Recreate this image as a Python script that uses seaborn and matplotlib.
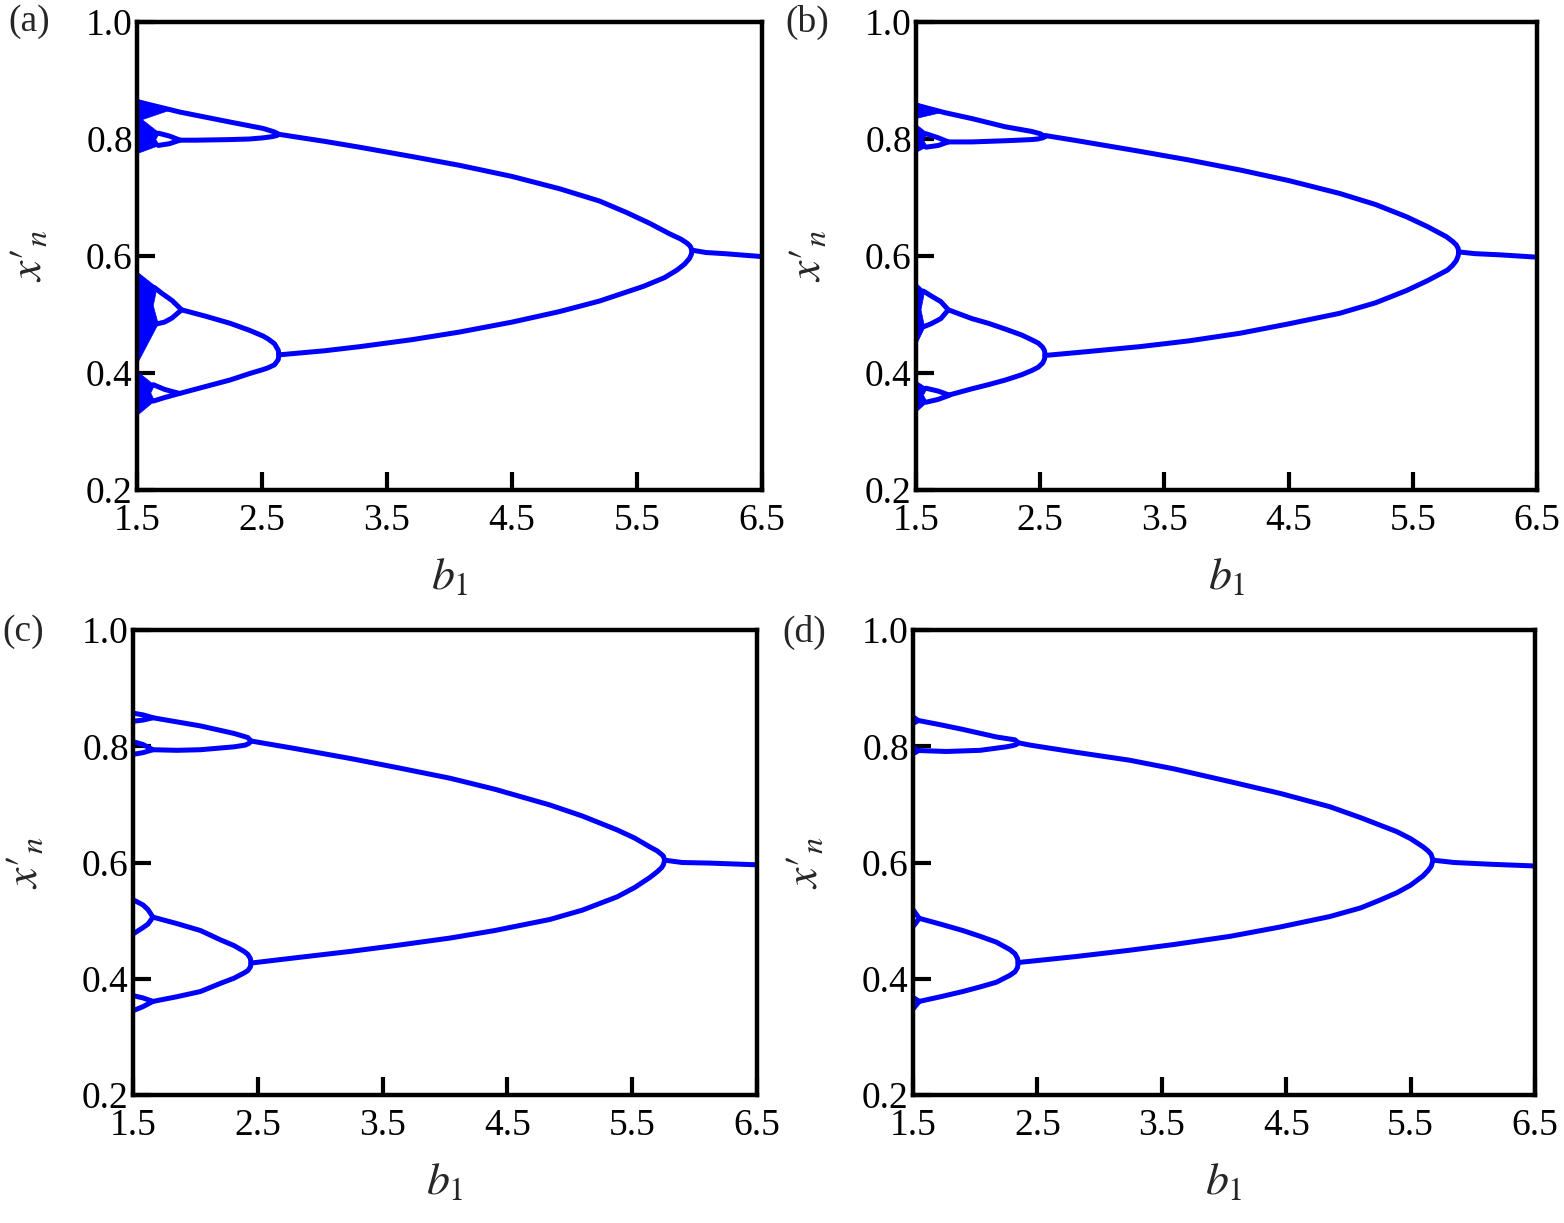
import matplotlib
matplotlib.use("Agg")
import matplotlib.pyplot as plt
import seaborn as sns

# ---------------------------------------------------------------------------
# values, (b1, x'_n) pairs for each branch
# ---------------------------------------------------------------------------

# (a)
a_tail = [(5.94, 0.610), (6.05, 0.606), (6.2, 0.604), (6.5, 0.599)]
a_p2_up = [(2.635, 0.808), (3.0, 0.796), (3.28, 0.786), (3.7, 0.770), (4.08, 0.755), (4.5, 0.736),
           (4.88, 0.715), (5.2, 0.694), (5.42, 0.674), (5.6, 0.656), (5.76, 0.638), (5.85, 0.629),
           (5.9, 0.622), (5.925, 0.617), (5.94, 0.610)]
a_p2_lo = [(2.635, 0.431), (3.0, 0.438), (3.28, 0.445), (3.7, 0.457), (4.08, 0.470), (4.5, 0.487),
           (4.88, 0.505), (5.2, 0.523), (5.55, 0.548), (5.72, 0.563), (5.82, 0.576), (5.88, 0.586),
           (5.92, 0.596), (5.935, 0.603), (5.94, 0.610)]
a_u1 = [(2.635, 0.808), (2.6, 0.812), (2.51, 0.818), (2.244, 0.829), (1.844, 0.846), (1.5, 0.864)]
a_u2 = [(2.635, 0.808), (2.62, 0.806), (2.58, 0.804), (2.51, 0.802), (2.4, 0.800), (2.244, 0.799),
        (1.977, 0.798), (1.844, 0.798)]
a_l1 = [(2.635, 0.431), (2.63, 0.439), (2.6, 0.450), (2.55, 0.458), (2.51, 0.463), (2.4, 0.473),
        (2.244, 0.485), (2.05, 0.497), (1.857, 0.508)]
a_l2 = [(2.635, 0.431), (2.63, 0.423), (2.6, 0.414), (2.55, 0.409), (2.51, 0.406), (2.4, 0.399),
        (2.244, 0.388), (2.05, 0.377), (1.84, 0.365)]
a_u2_loop = [(1.67, 0.810), (1.76, 0.805), (1.844, 0.798), (1.76, 0.792), (1.67, 0.789)]
a_l1_loop = [(1.64, 0.546), (1.70, 0.536), (1.78, 0.524), (1.857, 0.508), (1.78, 0.494),
             (1.72, 0.487), (1.66, 0.484)]
a_l2_loop = [(1.63, 0.380), (1.72, 0.372), (1.84, 0.365), (1.72, 0.358), (1.63, 0.352)]
a_band_u1 = [(1.5, 0.868), (1.76, 0.849), (1.5, 0.830)]
a_band_u2 = [(1.5, 0.840), (1.68, 0.810), (1.65, 0.799), (1.68, 0.789), (1.5, 0.775)]
a_band_l1 = [(1.5, 0.573), (1.66, 0.546), (1.63, 0.515), (1.67, 0.484), (1.5, 0.415)]
a_band_l2 = [(1.5, 0.403), (1.64, 0.379), (1.61, 0.366), (1.64, 0.352), (1.5, 0.327)]

# (b)
b_tail = [(5.87, 0.607), (6.0, 0.604), (6.2, 0.602), (6.5, 0.598)]
b_p2_up = [(2.539, 0.806), (2.8, 0.797), (3.3, 0.779), (3.7, 0.764), (4.11, 0.747), (4.5, 0.729),
           (4.91, 0.707), (5.2, 0.688), (5.45, 0.667), (5.62, 0.650), (5.77, 0.633), (5.82, 0.625),
           (5.85, 0.619), (5.865, 0.613), (5.87, 0.607)]
b_p2_lo = [(2.539, 0.430), (2.8, 0.435), (3.3, 0.445), (3.7, 0.455), (4.11, 0.468), (4.5, 0.484),
           (4.91, 0.502), (5.2, 0.520), (5.45, 0.541), (5.62, 0.558), (5.78, 0.576), (5.82, 0.584),
           (5.85, 0.592), (5.865, 0.600), (5.87, 0.607)]
b_u1 = [(2.539, 0.804), (2.5, 0.809), (2.43, 0.813), (2.216, 0.821), (1.948, 0.835),
        (1.733, 0.845), (1.5, 0.858)]
b_u2 = [(2.539, 0.804), (2.52, 0.802), (2.48, 0.800), (2.43, 0.799), (2.216, 0.797),
        (1.948, 0.795), (1.76, 0.795)]
b_l1 = [(2.539, 0.431), (2.535, 0.438), (2.52, 0.444), (2.485, 0.451), (2.43, 0.457), (2.35, 0.465),
        (2.22, 0.475), (2.082, 0.485), (1.95, 0.493), (1.76, 0.508)]
b_l2 = [(2.539, 0.431), (2.535, 0.424), (2.52, 0.417), (2.485, 0.410), (2.43, 0.404), (2.35, 0.397),
        (2.22, 0.388), (2.082, 0.380), (1.95, 0.373), (1.76, 0.362)]
b_u2_loop = [(1.58, 0.809), (1.68, 0.802), (1.76, 0.795), (1.68, 0.789), (1.58, 0.786)]
b_l1_loop = [(1.56, 0.540), (1.62, 0.532), (1.70, 0.522), (1.76, 0.508), (1.70, 0.493),
             (1.62, 0.484), (1.56, 0.479)]
b_l2_loop = [(1.58, 0.374), (1.68, 0.369), (1.77, 0.362), (1.68, 0.355), (1.58, 0.350)]
b_band_u1 = [(1.5, 0.862), (1.72, 0.846), (1.5, 0.835)]
b_band_u2 = [(1.5, 0.825), (1.59, 0.810), (1.56, 0.798), (1.59, 0.787), (1.5, 0.777)]
b_band_l1 = [(1.5, 0.554), (1.57, 0.540), (1.54, 0.508), (1.57, 0.478), (1.5, 0.447)]
b_band_l2 = [(1.5, 0.386), (1.59, 0.374), (1.56, 0.362), (1.59, 0.350), (1.5, 0.333)]

# (c)
c_tail = [(5.76, 0.604), (5.9, 0.600), (6.12, 0.599), (6.5, 0.596)]
c_p2_up = [(2.446, 0.809), (2.8, 0.796), (3.24, 0.779), (3.6, 0.764), (4.04, 0.745), (4.4, 0.726),
           (4.84, 0.699), (5.1, 0.680), (5.38, 0.656), (5.52, 0.642), (5.64, 0.627), (5.7, 0.620),
           (5.735, 0.614), (5.75, 0.611), (5.76, 0.604)]
c_p2_lo = [(2.446, 0.427), (2.8, 0.436), (3.24, 0.447), (3.6, 0.457), (4.04, 0.470), (4.4, 0.483),
           (4.84, 0.502), (5.1, 0.518), (5.38, 0.541), (5.52, 0.557), (5.64, 0.574), (5.7, 0.584),
           (5.735, 0.591), (5.75, 0.596), (5.76, 0.604)]
c_u1 = [(2.446, 0.809), (2.42, 0.815), (2.31, 0.822), (2.04, 0.835), (1.85, 0.842), (1.66, 0.849)]
c_u2 = [(2.446, 0.809), (2.43, 0.805), (2.4, 0.802), (2.31, 0.799), (2.04, 0.794), (1.85, 0.793),
        (1.66, 0.794)]
c_l1 = [(2.446, 0.427), (2.44, 0.435), (2.42, 0.442), (2.39, 0.447), (2.31, 0.457), (2.2, 0.467),
        (2.04, 0.483), (1.85, 0.495), (1.66, 0.506)]
c_l2 = [(2.446, 0.427), (2.44, 0.420), (2.42, 0.414), (2.39, 0.410), (2.31, 0.401), (2.2, 0.392),
        (2.04, 0.378), (1.85, 0.369), (1.66, 0.361)]
c_u1_loop = [(1.5, 0.857), (1.58, 0.854), (1.66, 0.849), (1.58, 0.845), (1.5, 0.843)]
c_u2_loop = [(1.5, 0.808), (1.58, 0.803), (1.66, 0.794), (1.58, 0.789), (1.5, 0.786)]
c_l1_loop = [(1.5, 0.536), (1.58, 0.527), (1.62, 0.519), (1.66, 0.506), (1.62, 0.494),
             (1.58, 0.488), (1.5, 0.477)]
c_l2_loop = [(1.5, 0.371), (1.58, 0.367), (1.66, 0.361), (1.58, 0.352), (1.5, 0.345)]

# (d)
d_tail = [(5.68, 0.604), (5.85, 0.600), (6.14, 0.597), (6.5, 0.594)]
d_p2_up = [(2.345, 0.806), (2.44, 0.802), (2.8, 0.790), (3.24, 0.776), (3.6, 0.761), (4.05, 0.739),
           (4.45, 0.719), (4.85, 0.696), (5.1, 0.677), (5.39, 0.653), (5.5, 0.641), (5.60, 0.627),
           (5.64, 0.620), (5.665, 0.614), (5.68, 0.604)]
d_p2_lo = [(2.345, 0.428), (2.44, 0.430), (2.8, 0.438), (3.24, 0.449), (3.6, 0.459), (4.05, 0.473),
           (4.45, 0.489), (4.85, 0.507), (5.1, 0.522), (5.25, 0.535), (5.39, 0.548), (5.5, 0.561),
           (5.6, 0.577), (5.64, 0.586), (5.665, 0.593), (5.68, 0.604)]
d_u1 = [(2.345, 0.806), (2.32, 0.811), (2.17, 0.816), (1.90, 0.829), (1.72, 0.837), (1.55, 0.844),
        (1.5, 0.847)]
d_u2 = [(2.345, 0.806), (2.33, 0.803), (2.3, 0.801), (2.25, 0.799), (2.04, 0.793), (1.77, 0.791),
        (1.5, 0.793)]
d_l1 = [(2.345, 0.427), (2.34, 0.435), (2.32, 0.443), (2.28, 0.450), (2.17, 0.463), (2.04, 0.473),
        (1.90, 0.483), (1.72, 0.494), (1.55, 0.504)]
d_l2 = [(2.345, 0.427), (2.34, 0.419), (2.32, 0.412), (2.28, 0.406), (2.17, 0.394), (2.04, 0.386),
        (1.90, 0.378), (1.72, 0.369), (1.55, 0.361)]
d_u1_loop = [(1.5, 0.851), (1.54, 0.844), (1.5, 0.839)]
d_u2_loop = [(1.5, 0.799), (1.54, 0.792), (1.5, 0.787)]
d_l1_loop = [(1.5, 0.519), (1.52, 0.513), (1.55, 0.504), (1.52, 0.495), (1.5, 0.490)]
d_l2_loop = [(1.5, 0.368), (1.55, 0.361), (1.5, 0.348)]

x_ticks = [1.5, 2.5, 3.5, 4.5, 5.5, 6.5]
y_ticks = [0.2, 0.4, 0.6, 0.8, 1.0]
panel_tags = ["(a)", "(b)", "(c)", "(d)"]

panels = [
    dict(lines=[a_tail, a_p2_up, a_p2_lo, a_u1, a_u2, a_l1, a_l2, a_u2_loop, a_l1_loop, a_l2_loop],
         bands=[a_band_u1, a_band_u2, a_band_l1, a_band_l2]),
    dict(lines=[b_tail, b_p2_up, b_p2_lo, b_u1, b_u2, b_l1, b_l2, b_u2_loop, b_l1_loop, b_l2_loop],
         bands=[b_band_u1, b_band_u2, b_band_l1, b_band_l2]),
    dict(lines=[c_tail, c_p2_up, c_p2_lo, c_u1, c_u2, c_l1, c_l2, c_u1_loop, c_u2_loop, c_l1_loop, c_l2_loop],
         bands=[]),
    dict(lines=[d_tail, d_p2_up, d_p2_lo, d_u1, d_u2, d_l1, d_l2, d_u1_loop, d_u2_loop, d_l1_loop, d_l2_loop],
         bands=[]),
]

# ---------------------------------------------------------------------------
sns.set_style("ticks")
plt.rcParams["font.family"] = ["Liberation Serif", "DejaVu Serif"]
plt.rcParams["mathtext.fontset"] = "stix"

BLUE = "#0000ff"
W, H = 1564, 1223
fig = plt.figure(figsize=(W / 100, H / 100), dpi=100)

# axes boxes in pixels: left, right, top, bottom
boxes = [(137, 762, 22, 490), (916, 1537, 22, 490),
         (133, 757, 630, 1095), (913, 1535, 630, 1095)]
tag_pos = [(8, 22), (785, 22), (2, 632), (782, 632)]

for i, (l, r, t, bt) in enumerate(boxes):
    ax = fig.add_axes([l / W, 1 - bt / H, (r - l) / W, (bt - t) / H])
    p = panels[i]
    for band in p["bands"]:
        ax.fill([v[0] for v in band], [v[1] for v in band], color=BLUE, lw=0.5)
    for line in p["lines"]:
        sns.lineplot(x=[v[0] for v in line], y=[v[1] for v in line], sort=False,
                     estimator=None, color=BLUE, lw=3.6, ax=ax,
                     solid_joinstyle="round", solid_capstyle="round")

    ax.set_xlim(1.5, 6.5)
    ax.set_ylim(0.2, 1.0)
    ax.set_xticks(x_ticks)
    ax.set_xticklabels([f"{v:.1f}" for v in x_ticks])
    ax.set_yticks(y_ticks)
    ax.set_yticklabels([f"{v:.1f}" for v in y_ticks])
    ax.tick_params(direction="in", length=13, width=3, labelsize=27, colors="black")
    ax.tick_params(axis="x", pad=10)
    ax.tick_params(axis="y", pad=3)
    for s in ax.spines.values():
        s.set_linewidth(3.2)
        s.set_color("black")

    ax.set_xlabel(r"$b_1$", fontsize=33)
    ax.set_ylabel(r"$x\prime_{n}$", fontsize=33)
    ax.xaxis.set_label_coords(0.5, -88 / (bt - t))
    ax.yaxis.set_label_coords(-107 / (r - l), 0.5)
    ax.xaxis.label.set_va("center")
    ax.yaxis.label.set_va("center")

    tx, ty = tag_pos[i]
    fig.text(tx / W, 1 - ty / H, panel_tags[i], fontsize=27, va="center", ha="left")

fig.savefig("out.png", dpi=100)
